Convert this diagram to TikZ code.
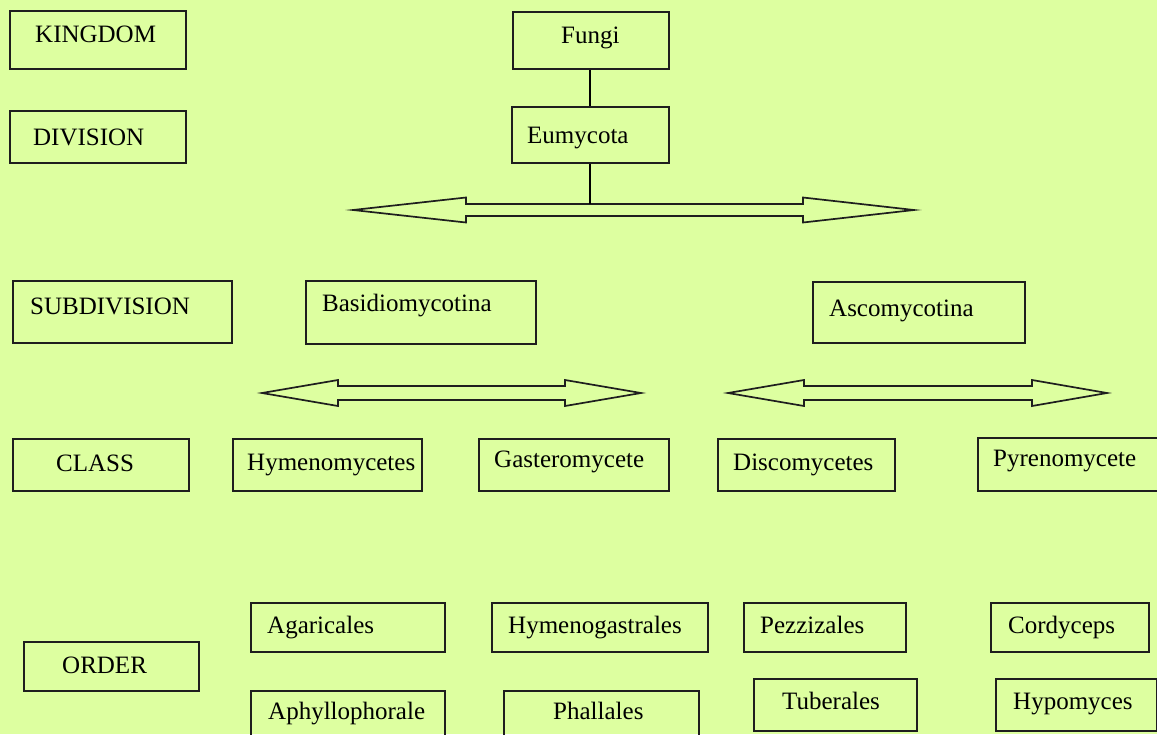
\documentclass[tikz,border=0pt]{standalone}
\usepackage{fontspec}
\setmainfont{Liberation Serif}
\definecolor{bg}{RGB}{221,255,160}
\definecolor{ink}{RGB}{30,30,30}
\tikzset{
  box/.style={draw=ink, line width=1.8pt, rectangle, inner sep=0pt, anchor=north west},
  lbl/.style={inner sep=0pt, anchor=base west, text=black, font=\fontsize{25}{30}\selectfont},
  conn/.style={draw=black, line width=1.5pt},
  dbl/.style={draw=ink, line width=1.7pt, line join=miter, fill=bg}
}
% box: name, x1, y1, x2, y2, text x, text baseline y, text
\newcommand\bx[8]{%
  \node[box, minimum width={(#4-#2)*1pt}, minimum height={(#5-#3)*1pt}] (#1) at (#2,#3) {};
  \node[lbl] (#1t) at (#6,#7) {#8};
}
% double arrow: left tip, left base, right base, right tip, centre y, head half, shaft half
\newcommand\dblarr[7]{%
  \draw[dbl] (#1,#5) -- (#2,#5-#6) -- (#2,#5-#7) -- (#3,#5-#7) -- (#3,#5-#6) -- (#4,#5)
    -- (#3,#5+#6) -- (#3,#5+#7) -- (#2,#5+#7) -- (#2,#5+#6) -- cycle;
}
\begin{document}
\begin{tikzpicture}[x=1pt, y=-1pt]
\fill[bg] (0,0) rectangle (1157,734);
\useasboundingbox (0,0) rectangle (1157,734);

% left column labels
\bx{kingdom}{9}{10}{185}{68}{35}{42}{KINGDOM}
\bx{division}{9}{110}{185}{162}{33}{145}{DIVISION}
\bx{subdivision}{12}{280}{231}{342}{30}{314}{SUBDIVISION}
\bx{class}{12}{438}{188}{490}{56}{471}{CLASS}
\bx{order}{23}{641}{198}{690}{62}{673}{ORDER}

% tree
\bx{fungi}{512}{11}{668}{68}{561}{43}{Fungi}
\bx{eumycota}{511}{106}{668}{162}{527}{143}{Eumycota}

\bx{basidio}{305}{280}{535}{343}{322}{311}{Basidiomycotina}
\bx{asco}{812}{281}{1024}{342}{829}{316}{Ascomycotina}

\bx{hymeno}{232}{438}{421}{490}{247}{470}{Hymenomycetes}
\bx{gastero}{478}{438}{668}{490}{494}{467}{Gasteromycete}
\bx{disco}{717}{438}{894}{490}{733}{470}{Discomycetes}
\bx{pyreno}{977}{437}{1170}{490}{993}{466}{Pyrenomycete}

\bx{agaric}{250}{602}{444}{651}{267}{633}{Agaricales}
\bx{hymenog}{491}{602}{707}{651}{508}{633}{Hymenogastrales}
\bx{pezz}{743}{602}{905}{651}{760}{633}{Pezzizales}
\bx{cordy}{990}{602}{1148}{651}{1008}{633}{Cordyceps}

\bx{aphyl}{250}{690}{444}{750}{268}{719}{Aphyllophorale}
\bx{phall}{503}{690}{698}{750}{553}{719}{Phallales}
\bx{tuber}{753}{678}{916}{730}{782}{709}{Tuberales}
\bx{hypo}{995}{678}{1156}{730}{1013}{709}{Hypomyces}

% double arrows
\dblarr{353}{466}{803}{914}{210}{12.5}{6}
\dblarr{262}{338}{565}{641}{393}{13}{7}
\dblarr{728}{804}{1032}{1107}{393}{13}{7}

% connectors
\coordinate (arrtop) at (590,204);
\draw[conn] (fungi.south -| arrtop) -- (eumycota.north -| arrtop);
\draw[conn] (eumycota.south -| arrtop) -- (arrtop);
\end{tikzpicture}
\end{document}
